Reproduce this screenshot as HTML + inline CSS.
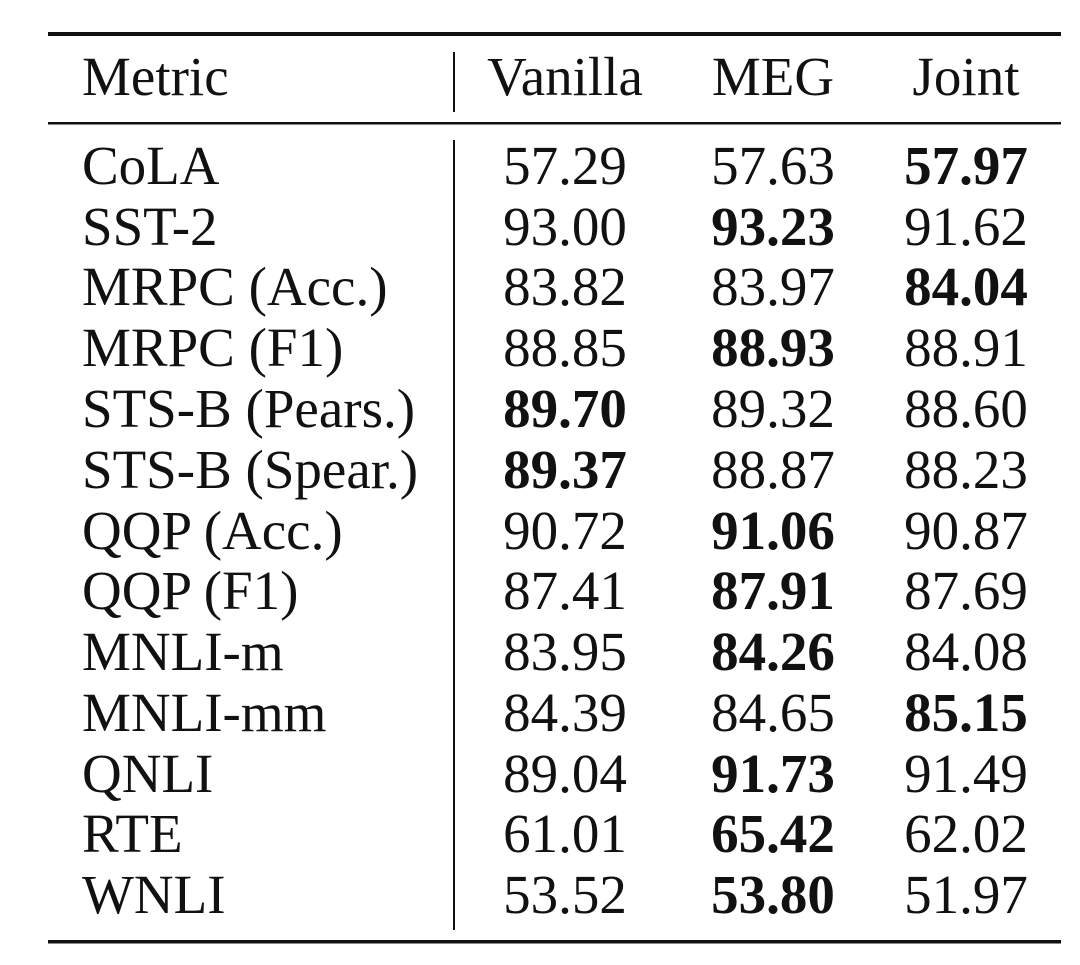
<!DOCTYPE html>
<html><head><style>
html,body{margin:0;padding:0;background:#fff;}
svg{display:block;}
text{font-family:"Liberation Serif",serif;font-size:55px;fill:#111;}
.b{font-weight:bold;}
</style></head><body>
<svg width="1080" height="965" xmlns="http://www.w3.org/2000/svg">
<rect x="48" y="32" width="1013" height="4" fill="#111"/>
<rect x="48" y="122" width="1013" height="2.5" fill="#111"/>
<rect x="48" y="940" width="1013" height="3.5" fill="#111"/>
<rect x="453" y="52" width="2" height="60" fill="#111"/>
<rect x="453" y="140" width="2" height="790" fill="#111"/>
<text x="82" y="95">Metric</text>
<text x="565" y="95" text-anchor="middle">Vanilla</text>
<text x="773" y="95" text-anchor="middle">MEG</text>
<text x="966" y="95" text-anchor="middle">Joint</text>
<g id="rows">
<text x="82" y="184">CoLA</text><text x="565" y="184" text-anchor="middle">57.29</text><text x="773" y="184" text-anchor="middle">57.63</text><text class="b" x="966" y="184" text-anchor="middle">57.97</text>
<text x="82" y="245">SST-2</text><text x="565" y="245" text-anchor="middle">93.00</text><text class="b" x="773" y="245" text-anchor="middle">93.23</text><text x="966" y="245" text-anchor="middle">91.62</text>
<text x="82" y="305">MRPC (Acc.)</text><text x="565" y="305" text-anchor="middle">83.82</text><text x="773" y="305" text-anchor="middle">83.97</text><text class="b" x="966" y="305" text-anchor="middle">84.04</text>
<text x="82" y="366">MRPC (F1)</text><text x="565" y="366" text-anchor="middle">88.85</text><text class="b" x="773" y="366" text-anchor="middle">88.93</text><text x="966" y="366" text-anchor="middle">88.91</text>
<text x="82" y="427">STS-B (Pears.)</text><text class="b" x="565" y="427" text-anchor="middle">89.70</text><text x="773" y="427" text-anchor="middle">89.32</text><text x="966" y="427" text-anchor="middle">88.60</text>
<text x="82" y="488">STS-B (Spear.)</text><text class="b" x="565" y="488" text-anchor="middle">89.37</text><text x="773" y="488" text-anchor="middle">88.87</text><text x="966" y="488" text-anchor="middle">88.23</text>
<text x="82" y="549">QQP (Acc.)</text><text x="565" y="549" text-anchor="middle">90.72</text><text class="b" x="773" y="549" text-anchor="middle">91.06</text><text x="966" y="549" text-anchor="middle">90.87</text>
<text x="82" y="609">QQP (F1)</text><text x="565" y="609" text-anchor="middle">87.41</text><text class="b" x="773" y="609" text-anchor="middle">87.91</text><text x="966" y="609" text-anchor="middle">87.69</text>
<text x="82" y="670">MNLI-m</text><text x="565" y="670" text-anchor="middle">83.95</text><text class="b" x="773" y="670" text-anchor="middle">84.26</text><text x="966" y="670" text-anchor="middle">84.08</text>
<text x="82" y="731">MNLI-mm</text><text x="565" y="731" text-anchor="middle">84.39</text><text x="773" y="731" text-anchor="middle">84.65</text><text class="b" x="966" y="731" text-anchor="middle">85.15</text>
<text x="82" y="792">QNLI</text><text x="565" y="792" text-anchor="middle">89.04</text><text class="b" x="773" y="792" text-anchor="middle">91.73</text><text x="966" y="792" text-anchor="middle">91.49</text>
<text x="82" y="852">RTE</text><text x="565" y="852" text-anchor="middle">61.01</text><text class="b" x="773" y="852" text-anchor="middle">65.42</text><text x="966" y="852" text-anchor="middle">62.02</text>
<text x="82" y="913">WNLI</text><text x="565" y="913" text-anchor="middle">53.52</text><text class="b" x="773" y="913" text-anchor="middle">53.80</text><text x="966" y="913" text-anchor="middle">51.97</text>
</g>
</svg>
</body></html>
